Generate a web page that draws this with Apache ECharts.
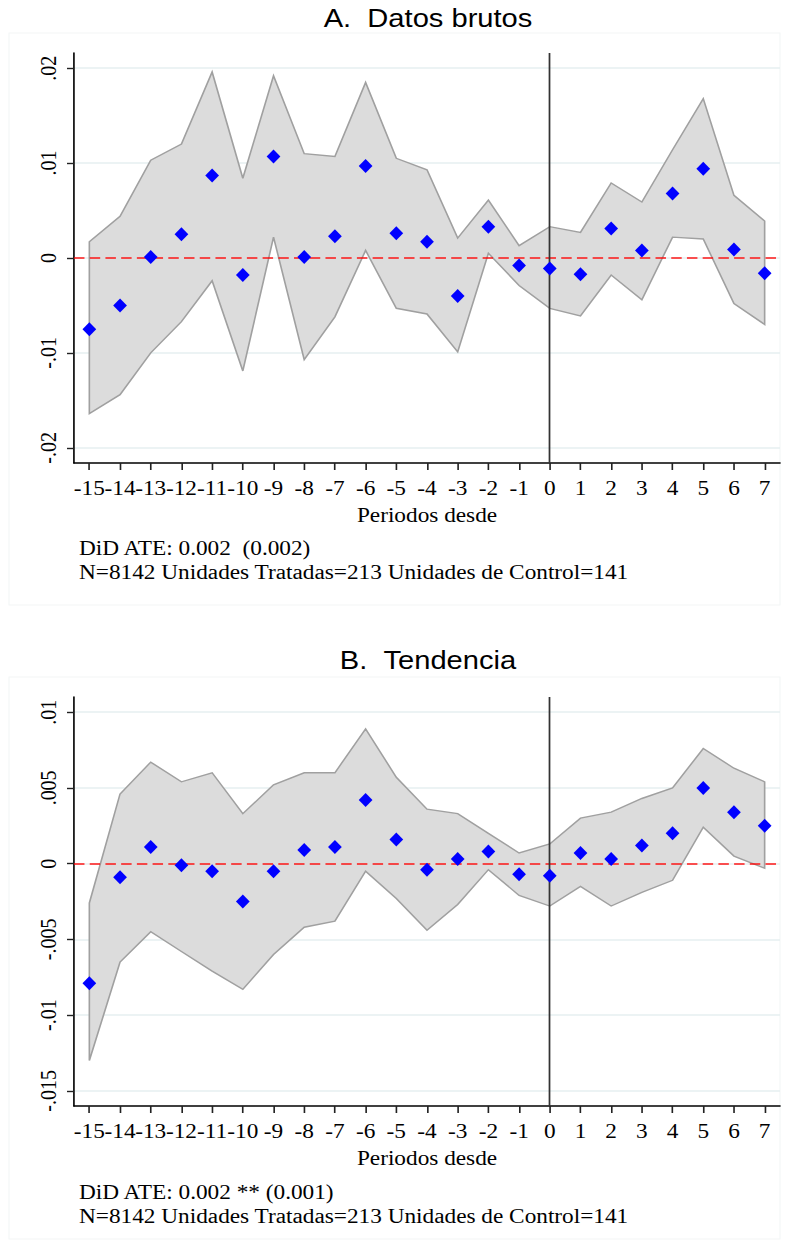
<!DOCTYPE html>
<html>
<head>
<meta charset="utf-8">
<script src="https://cdn.jsdelivr.net/npm/echarts@6/dist/echarts.min.js"></script>
<style>
  html, body { margin: 0; padding: 0; background: #fff; overflow: hidden; }
  #wrap { width: 787px; height: 1244px; overflow: hidden; }
  /* the figure is laid out on a narrower canvas and widened horizontally */
  #chart { width: 676px; height: 1244px; transform: scaleX(1.16420); transform-origin: 0 0; }
</style>
</head>
<body>
<div id="wrap"><div id="chart"></div></div>
<script>
// Event-time periods
const periods = ['-15','-14','-13','-12','-11','-10','-9','-8','-7','-6','-5','-4','-3','-2','-1','0','1','2','3','4','5','6','7'];

// Panel A: raw data estimates with 95% CI
const rawCoef  = [-0.0075, -0.0050, 0.0001, 0.0025, 0.0087, -0.0018, 0.0107, 0.0001, 0.0023, 0.0097, 0.0026, 0.0017, -0.0040, 0.0033, -0.0008, -0.0011, -0.0017, 0.0031, 0.0008, 0.0068, 0.0094, 0.0009, -0.0016];
const rawUpper = [0.0017, 0.0044, 0.0103, 0.0120, 0.0196, 0.0084, 0.0192, 0.0110, 0.0107, 0.0185, 0.0105, 0.0093, 0.0021, 0.0061, 0.0013, 0.0033, 0.0027, 0.0079, 0.0059, 0.0114, 0.0168, 0.0066, 0.0039];
const rawLower = [-0.0164, -0.0144, -0.0100, -0.0067, -0.0024, -0.0119, 0.0022, -0.0107, -0.0062, 0.0008, -0.0053, -0.0059, -0.0099, 0.0005, -0.0029, -0.0053, -0.0061, -0.0018, -0.0044, 0.0022, 0.0020, -0.0048, -0.0070];

// Panel B: trend-adjusted estimates with 95% CI
const trendCoef  = [-0.0079, -0.0009, 0.0011, -0.0001, -0.0005, -0.0025, -0.0005, 0.0009, 0.0011, 0.0042, 0.0016, -0.0004, 0.0003, 0.0008, -0.0007, -0.0008, 0.0007, 0.0003, 0.0012, 0.0020, 0.0050, 0.0034, 0.0025];
const trendUpper = [-0.0026, 0.0046, 0.0067, 0.0054, 0.0060, 0.0033, 0.0052, 0.0060, 0.0060, 0.0089, 0.0057, 0.0036, 0.0033, 0.0020, 0.0007, 0.0013, 0.0030, 0.0034, 0.0043, 0.0050, 0.0076, 0.0063, 0.0054];
const trendLower = [-0.0130, -0.0065, -0.0045, -0.0058, -0.0071, -0.0083, -0.0060, -0.0042, -0.0038, -0.0005, -0.0023, -0.0044, -0.0027, -0.0004, -0.0021, -0.0028, -0.0015, -0.0028, -0.0019, -0.0011, 0.0024, 0.0005, -0.0003];

// y-axis tick values
const rawTicks   = [-0.02, -0.01, 0, 0.01, 0.02];
const trendTicks = [-0.015, -0.01, -0.005, 0, 0.005, 0.01];

// Titles and notes
const titleA = 'A.\u00a0\u00a0Datos brutos';
const titleB = 'B.\u00a0\u00a0Tendencia';
const notesA = ['DiD ATE: 0.002 \u00a0(0.002)', 'N=8142 Unidades Tratadas=213 Unidades de Control=141'];
const notesB = ['DiD ATE: 0.002 ** (0.001)', 'N=8142 Unidades Tratadas=213 Unidades de Control=141'];
const xTitle = 'Periodos desde';

const SERIF = "'Liberation Serif', 'Times New Roman', serif";
const SANS = "'Liberation Sans', Arial, sans-serif";
const SX = 787 / 676;           // horizontal widening of the canvas
const px = v => v / SX;          // page x -> canvas x

function stataLabel(v) {
  if (Math.abs(v) < 1e-12) return '0';
  return String(+v.toFixed(4)).replace(/^(-?)0\./, '$1.');
}

function xAxisFor(gridIndex) {
  return {
    type: 'category', gridIndex, data: periods, boundaryGap: true,
    axisLine: { show: true, onZero: false, lineStyle: { color: '#000', width: 1.5 } },
    axisTick: { show: true, alignWithLabel: true, length: 7, lineStyle: { color: '#222', width: 1.4 } },
    axisLabel: { interval: 0, margin: 16, color: '#000', fontFamily: SERIF, fontSize: 20 },
    splitLine: { show: false },
    name: xTitle, nameLocation: 'middle', nameGap: 43,
    nameTextStyle: { color: '#000', fontFamily: SERIF, fontSize: 20 }
  };
}

function yAxisFor(gridIndex, min, max, ticks) {
  return {
    type: 'value', gridIndex, min, max,
    axisLine: { show: true, onZero: false, lineStyle: { color: '#000', width: 1.4 } },
    axisTick: { show: true, length: 6, customValues: ticks, lineStyle: { color: '#222', width: 1.4 } },
    axisLabel: { rotate: 90, margin: 12, customValues: ticks, formatter: stataLabel,
                 color: '#000', fontFamily: SERIF, fontSize: 20 },
    splitLine: { show: true, lineStyle: { color: '#e6eff0', width: 1.5 } }
  };
}

function bandSeries(idx, lower, upper) {
  return {
    type: 'custom', xAxisIndex: idx, yAxisIndex: idx, z: 1, silent: true,
    data: periods.map((p, i) => [i, lower[i], upper[i]]),
    encode: { x: 0, y: [1, 2] },
    renderItem(params, api) {
      if (params.dataIndex !== 0) return;
      const pts = [];
      for (let i = 0; i < upper.length; i++) pts.push(api.coord([i, upper[i]]));
      for (let i = lower.length - 1; i >= 0; i--) pts.push(api.coord([i, lower[i]]));
      return {
        type: 'polygon', shape: { points: pts },
        style: { fill: '#dcdcdc', stroke: '#a0a0a0', lineWidth: 1.4, lineJoin: 'miter' }
      };
    }
  };
}

function refLines(idx) {
  return {
    type: 'line', xAxisIndex: idx, yAxisIndex: idx, data: [], silent: true,
    markLine: {
      silent: true, symbol: ['none', 'none'], label: { show: false }, animation: false,
      data: [
        { yAxis: 0, lineStyle: { color: '#ff0000', type: [9, 4.5], width: 1.6, opacity: 0.9 } },
        { xAxis: periods.indexOf('0'), lineStyle: { color: '#333', type: 'solid', width: 1.5, opacity: 1 } }
      ]
    }
  };
}

function pointSeries(idx, coef) {
  return {
    type: 'scatter', xAxisIndex: idx, yAxisIndex: idx, z: 8, silent: true,
    symbol: 'diamond', symbolSize: [11.8, 14],
    itemStyle: { color: '#0000ff', opacity: 1 },
    data: coef
  };
}

function textEl(x, y, text, font, size, align) {
  return {
    type: 'text', x, y, silent: true,
    style: { text, fill: '#000', fontFamily: font, fontSize: size, align, verticalAlign: 'middle' }
  };
}

const chart = echarts.init(document.getElementById('chart'), null, { renderer: 'svg' });
chart.setOption({
  animation: false,
  backgroundColor: '#fff',
  grid: [
    { left: px(74), right: 676 - px(780), top: 53, height: 410 },
    { left: px(74), right: 676 - px(780), top: 697, height: 409 }
  ],
  xAxis: [xAxisFor(0), xAxisFor(1)],
  yAxis: [
    yAxisFor(0, -0.0216, 0.0216, rawTicks),
    yAxisFor(1, -0.016, 0.011, trendTicks)
  ],
  series: [
    bandSeries(0, rawLower, rawUpper),
    refLines(0),
    pointSeries(0, rawCoef),
    bandSeries(1, trendLower, trendUpper),
    refLines(1),
    pointSeries(1, trendCoef)
  ],
  graphic: [
    { type: 'rect', silent: true, z: -1, shape: { x: px(9), y: 33, width: px(780) - px(9), height: 572 },
      style: { fill: 'none', stroke: '#f3f6f6', lineWidth: 1 } },
    { type: 'rect', silent: true, z: -1, shape: { x: px(9), y: 677, width: px(780) - px(9), height: 562 },
      style: { fill: 'none', stroke: '#f3f6f6', lineWidth: 1 } },
    textEl(px(428), 18.5, titleA, SANS, 25, 'center'),
    textEl(px(428), 660, titleB, SANS, 25, 'center'),
    textEl(px(79), 549, notesA[0], SERIF, 20, 'left'),
    textEl(px(79), 573, notesA[1], SERIF, 20, 'left'),
    textEl(px(79), 1193, notesB[0], SERIF, 20, 'left'),
    textEl(px(79), 1217, notesB[1], SERIF, 20, 'left')
  ]
});
</script>
</body>
</html>
